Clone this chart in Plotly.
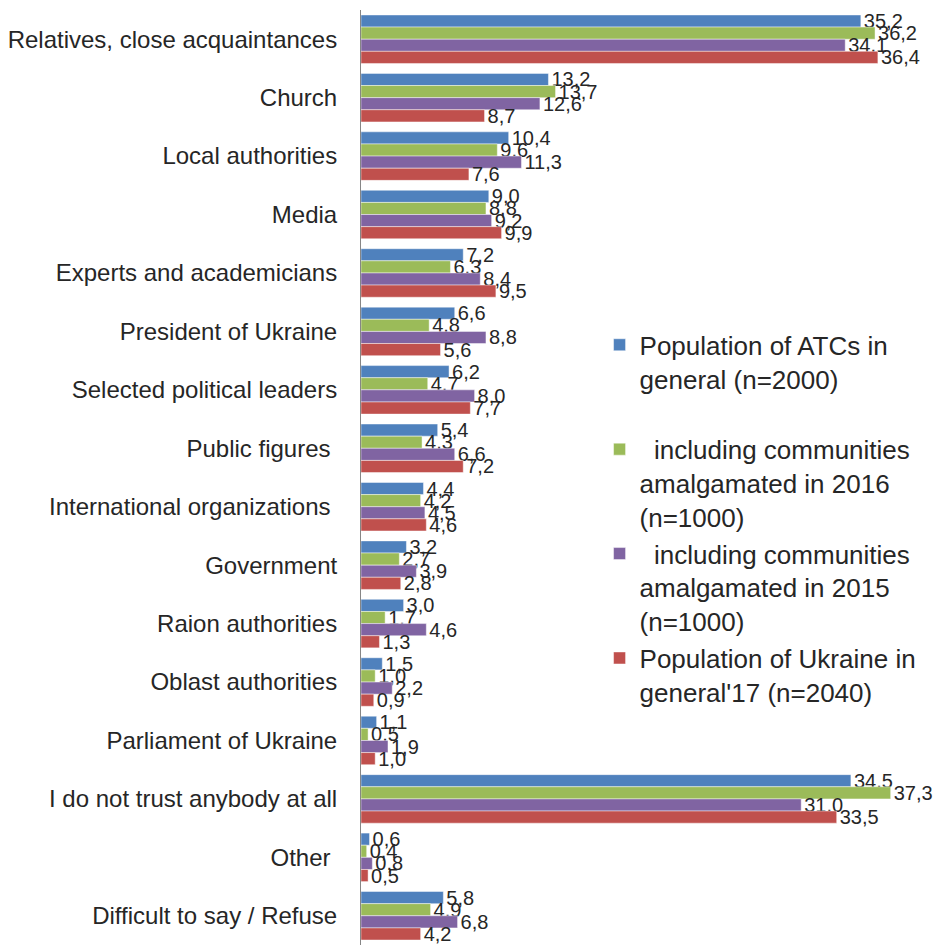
import plotly.graph_objs as go

# Trust survey: whom do people trust (%), four population groups
categories = [
    "Relatives, close acquaintances",
    "Church",
    "Local authorities",
    "Media",
    "Experts and academicians",
    "President of Ukraine",
    "Selected political leaders",
    "Public figures ",
    "International organizations ",
    "Government",
    "Raion authorities",
    "Oblast authorities",
    "Parliament of Ukraine",
    "I do not trust anybody at all",
    "Other ",
    "Difficult to say / Refuse",
]

atc_total = [35.2, 13.2, 10.4, 9.0, 7.2, 6.6, 6.2, 5.4, 4.4, 3.2, 3.0, 1.5, 1.1, 34.5, 0.6, 5.8]
atc_2016 = [36.2, 13.7, 9.6, 8.8, 6.3, 4.8, 4.7, 4.3, 4.2, 2.7, 1.7, 1.0, 0.5, 37.3, 0.4, 4.9]
atc_2015 = [34.1, 12.6, 11.3, 9.2, 8.4, 8.8, 8.0, 6.6, 4.5, 3.9, 4.6, 2.2, 1.9, 31.0, 0.8, 6.8]
ukraine_2017 = [36.4, 8.7, 7.6, 9.9, 9.5, 5.6, 7.7, 7.2, 4.6, 2.8, 1.3, 0.9, 1.0, 33.5, 0.5, 4.2]

series_names = [
    "Population of ATCs in<br>general (n=2000)<br> ",
    "  including communities<br>amalgamated in 2016<br>(n=1000)",
    "  including communities<br>amalgamated in 2015<br>(n=1000)",
    "Population of Ukraine in<br>general'17 (n=2040)",
]

colors = ["#4F81BD", "#9BBB59", "#8064A2", "#C0504D"]
FONT = "Liberation Sans, Arial, sans-serif"

fig = go.Figure()

for name, values, color in zip(series_names, [atc_total, atc_2016, atc_2015, ukraine_2017], colors):
    fig.add_trace(
        go.Bar(
            y=categories,
            x=values,
            orientation="h",
            name=name,
            marker=dict(color=color, line=dict(color="rgba(255,255,255,0.45)", width=1)),
            text=[f"{v:.1f}".replace(".", ",") for v in values],
            textposition="outside",
            textfont=dict(size=20, color="#262626", family=FONT),
            constraintext="none",
            cliponaxis=False,
        )
    )

# page body adds an 8px offset, so the figure is sized a little smaller
fig.update_layout(
    width=942,
    height=937,
    margin=dict(l=353, r=21, t=2, b=0),
    barmode="group",
    bargap=0.17,
    bargroupgap=0,
    plot_bgcolor="white",
    paper_bgcolor="white",
    font=dict(family=FONT, color="#262626"),
    legend=dict(
        x=0.42,
        y=0.667,
        xanchor="left",
        yanchor="top",
        traceorder="normal",
        valign="top",
        itemwidth=30,
        font=dict(size=26, color="#262626", family=FONT),
        bgcolor="rgba(0,0,0,0)",
    ),
    xaxis=dict(
        range=[0, 40],
        showticklabels=False,
        showgrid=False,
        zeroline=False,
        showline=False,
    ),
    yaxis=dict(
        autorange="reversed",
        showline=True,
        linecolor="#868686",
        linewidth=1,
        ticks="",
        ticklabelstandoff=18,
        tickfont=dict(size=24, color="#262626", family=FONT),
        showgrid=False,
    ),
)

fig.write_html("out.html")
